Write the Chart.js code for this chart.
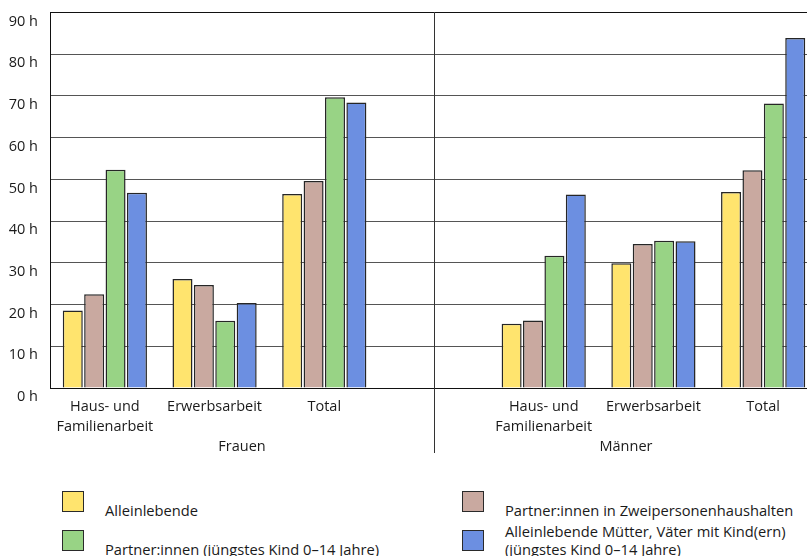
<!DOCTYPE html>
<html>
<head>
<meta charset="utf-8">
<script src="https://cdn.jsdelivr.net/npm/chart.js@4/dist/chart.umd.min.js"></script>
<style>
  html, body { margin: 0; padding: 0; overflow: hidden; background: #fff; }
  body { width: 807px; height: 556px; position: relative; font-family: "Open Sans", sans-serif; color: #1a1a1a; }
  #wrap { position: absolute; left: 0; top: 0; width: 818px; height: 460px; }
  .lbox { position: absolute; width: 20px; height: 19px; border: 1.5px solid #2a2a2a; }
  .ltxt { position: absolute; font-size: 14.7px; line-height: 18px; white-space: nowrap; }
</style>
</head>
<body>
<div id="wrap"><canvas id="myChart"></canvas></div>
<div id="legend"></div>
<script>
// categories per panel
var categories = [['Haus- und', 'Familienarbeit'], 'Erwerbsarbeit', 'Total'];
var groups = ['Frauen', 'Männer'];
var yTicks = [0, 10, 20, 30, 40, 50, 60, 70, 80, 90];

// series names (lines as shown in the legend)
var seriesNames = [
    ['Alleinlebende'],
    ['Partner:innen in Zweipersonenhaushalten'],
    ['Partner:innen (jüngstes Kind 0–14 Jahre)'],
    ['Alleinlebende Mütter, Väter mit Kind(ern)', '(jüngstes Kind 0–14 Jahre)']
];
var colors = ['#FFE46E', '#C9A9A0', '#98D385', '#6C8FE1'];

// hours per week: Haus/Familie, Erwerb, Total
var frauenAllein   = [18.6, 26.1, 46.5];
var frauenZweiP    = [22.5, 24.7, 49.6];
var frauenKind     = [52.3, 16.1, 69.7];
var frauenMuetter  = [46.8, 20.4, 68.4];

var maennerAllein  = [15.4, 29.9, 47.0];
var maennerZweiP   = [16.2, 34.5, 52.2];
var maennerKind    = [31.7, 35.3, 68.2];
var maennerVaeter  = [46.4, 35.2, 83.9];

var frauen = [frauenAllein, frauenZweiP, frauenKind, frauenMuetter];
var maenner = [maennerAllein, maennerZweiP, maennerKind, maennerVaeter];

// one empty slot between the two panels
var labels = categories.concat([''], categories);

var datasets = seriesNames.map(function(name, i) {
    return {
        label: name.join(' '),
        data: frauen[i].concat([null], maenner[i]),
        backgroundColor: colors[i],
        borderColor: '#262626',
        borderWidth: 1.5,
        categoryPercentage: 0.78,
        barPercentage: 0.935
    };
});

var divider = {
    id: 'divider',
    afterDraw: function(chart) {
        var ctx = chart.ctx;
        var x = Math.round(chart.scales.x.getPixelForValue(3)) + 0.5;
        ctx.save();
        ctx.strokeStyle = '#333';
        ctx.lineWidth = 1;
        ctx.beginPath();
        ctx.moveTo(x, chart.chartArea.top);
        ctx.lineTo(x, chart.chartArea.bottom + 65);
        ctx.stroke();
        ctx.restore();
    }
};

var family = '"Open Sans", sans-serif';

var ctx = document.getElementById('myChart').getContext('2d');
var myChart = new Chart(ctx, {
    type: 'bar',
    data: { labels: labels, datasets: datasets },
    options: {
        responsive: true,
        maintainAspectRatio: false,
        animation: false,
        layout: { padding: { top: 12.5, left: 0, right: 0, bottom: 0 } },
        plugins: { legend: { display: false }, tooltip: { enabled: false } },
        scales: {
            x: {
                grid: { display: false, drawTicks: false },
                border: { display: true, color: '#111', width: 1 },
                ticks: { font: { family: family, size: 14.5, lineHeight: 1.38 }, color: '#1a1a1a', padding: 9, maxRotation: 0, autoSkip: false },
                afterFit: function(s) { s.height = 52; }
            },
            group: {
                type: 'category',
                position: 'bottom',
                weight: 1,
                labels: groups,
                offset: true,
                grid: { display: false, drawTicks: false },
                border: { display: false },
                ticks: { font: { family: family, size: 14.5, lineHeight: 1.0 }, color: '#1a1a1a', padding: 0 },
                afterFit: function(s) { s.height = 20; }
            },
            y: {
                min: 0,
                max: 90,
                afterBuildTicks: function(s) { s.ticks = yTicks.map(function(v) { return { value: v }; }); },
                grid: {
                    drawTicks: false,
                    color: function(c) { return c.tick && c.tick.value === 90 ? '#111' : '#555'; },
                    lineWidth: 1
                },
                border: { display: true, color: '#111', width: 1 },
                ticks: {
                    font: { family: family, size: 14.5 },
                    color: '#1a1a1a',
                    padding: 12,
                    labelOffset: 9,
                    callback: function(v) { return v + ' h'; }
                },
                afterFit: function(s) { s.width = 50; s.paddingTop = 0; s.paddingBottom = 0; }
            }
        }
    },
    plugins: [divider]
});

// legend: two columns, column-first
var legend = document.getElementById('legend');
var colX = [62, 462];
var rowY = [491, 530];
seriesNames.forEach(function(name, i) {
    var col = i % 2, row = Math.floor(i / 2);
    var box = document.createElement('div');
    box.className = 'lbox';
    box.style.left = colX[col] + 'px';
    box.style.top = rowY[row] + 'px';
    box.style.background = colors[i];
    legend.appendChild(box);
    var txt = document.createElement('div');
    txt.className = 'ltxt';
    txt.style.left = (colX[col] + 43) + 'px';
    txt.style.bottom = (556 - (rowY[row] + 28)) + 'px';
    txt.innerHTML = name.join('<br>');
    legend.appendChild(txt);
});
</script>
</body>
</html>
